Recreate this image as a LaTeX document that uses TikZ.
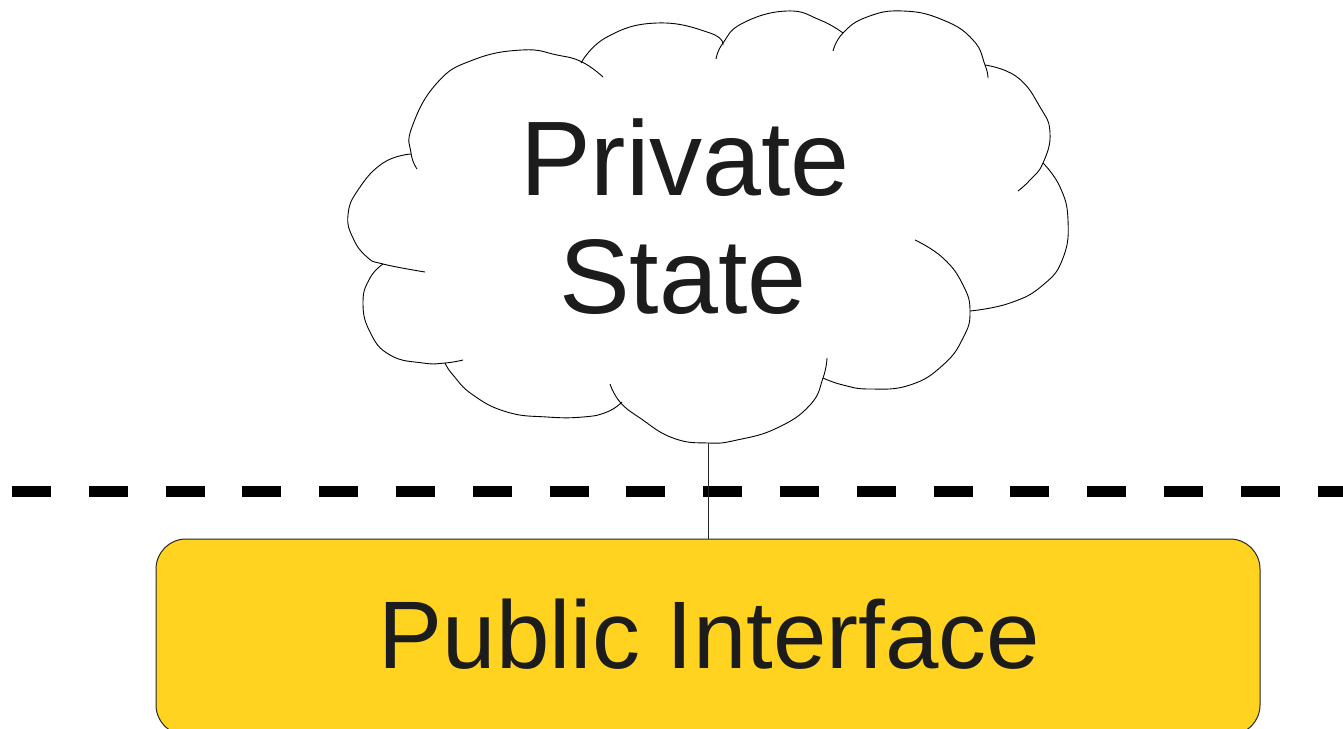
\documentclass[tikz,border=0pt]{standalone}
\usepackage{fontspec}
\setmainfont{Liberation Sans}
\definecolor{pubyellow}{RGB}{255,211,32}
\definecolor{inktext}{RGB}{28,28,28}
\tikzset{
  lobe/.style={draw=black, line width=0.9pt, smooth, tension=0.8},
  divider/.style={draw=black, line width=11pt, dash pattern=on 39pt off 37.8pt},
  pubbox/.style={draw=black!85, line width=1pt, fill=pubyellow, rounded corners=30pt,
    minimum width=1104pt, minimum height=196pt, inner sep=0pt},
  bigtext/.style={text=inktext, inner sep=0pt, anchor=base},
  link/.style={draw=black!85, line width=1pt}
}
\begin{document}
\begin{tikzpicture}[x=1pt,y=-1pt]
\useasboundingbox (0,0) rectangle (1343,728);
% cloud lobes
\draw[lobe] plot coordinates {(417,169) (411,153) (412,127) (437,83) (473,60) (522,50) (557,55) (582,62) (603,77)};
\draw[lobe] plot coordinates {(581,63) (607,37) (657,23) (710,33) (723,45)};
\draw[lobe] plot coordinates {(716,59) (723,43) (743,23) (787,11) (820,20) (843,33)};
\draw[lobe] plot coordinates {(833,51) (843,33) (867,17) (903,11) (943,20) (973,40) (985,65) (988,78)};
\draw[lobe] plot coordinates {(985,65) (1017,77) (1040,107) (1050,133) (1043,163) (1030,180) (1018,191)};
\draw[lobe] plot coordinates {(1043,163) (1060,187) (1068,220) (1063,258) (1043,285) (1010,303) (970,311)};
\draw[lobe] plot coordinates {(915,240) (943,258) (963,285) (970,312) (963,338) (943,365) (910,385) (870,389) (843,385) (823,378)};
\draw[lobe] plot coordinates {(827,358) (823,378) (810,405) (777,428) (737,440) (708,443) (673,438) (640,418) (620,402) (610,384)};
\draw[lobe] plot coordinates {(622,402) (607,412) (583,417) (547,417) (507,412) (473,395) (453,375) (445,363)};
\draw[lobe] plot coordinates {(463,360) (445,363) (423,363) (390,355) (370,332) (363,302) (370,278) (383,264)};
\draw[lobe] plot coordinates {(425,272) (383,264) (367,257) (353,238) (348,215) (358,190) (383,163) (411,154)};
\coordinate (cloudbottom) at (708,443);
\node[bigtext, font=\fontsize{106}{118}\selectfont] (private) at (685,195) {Private};
\node[bigtext, font=\fontsize{106}{118}\selectfont] (state) at (683,313) {State};
% divider
\coordinate (divL) at (12,491);
\coordinate (divR) at (1360,491);
\draw[divider] (divL) -- (divR);
% public interface box
\node[pubbox] (pub) at (708,637) {};
\node[bigtext, font=\fontsize{96}{110}\selectfont] (publabel) at (709.5,668) {Public Interface};
\draw[link] (cloudbottom) -- (pub.north);
\end{tikzpicture}
\end{document}
